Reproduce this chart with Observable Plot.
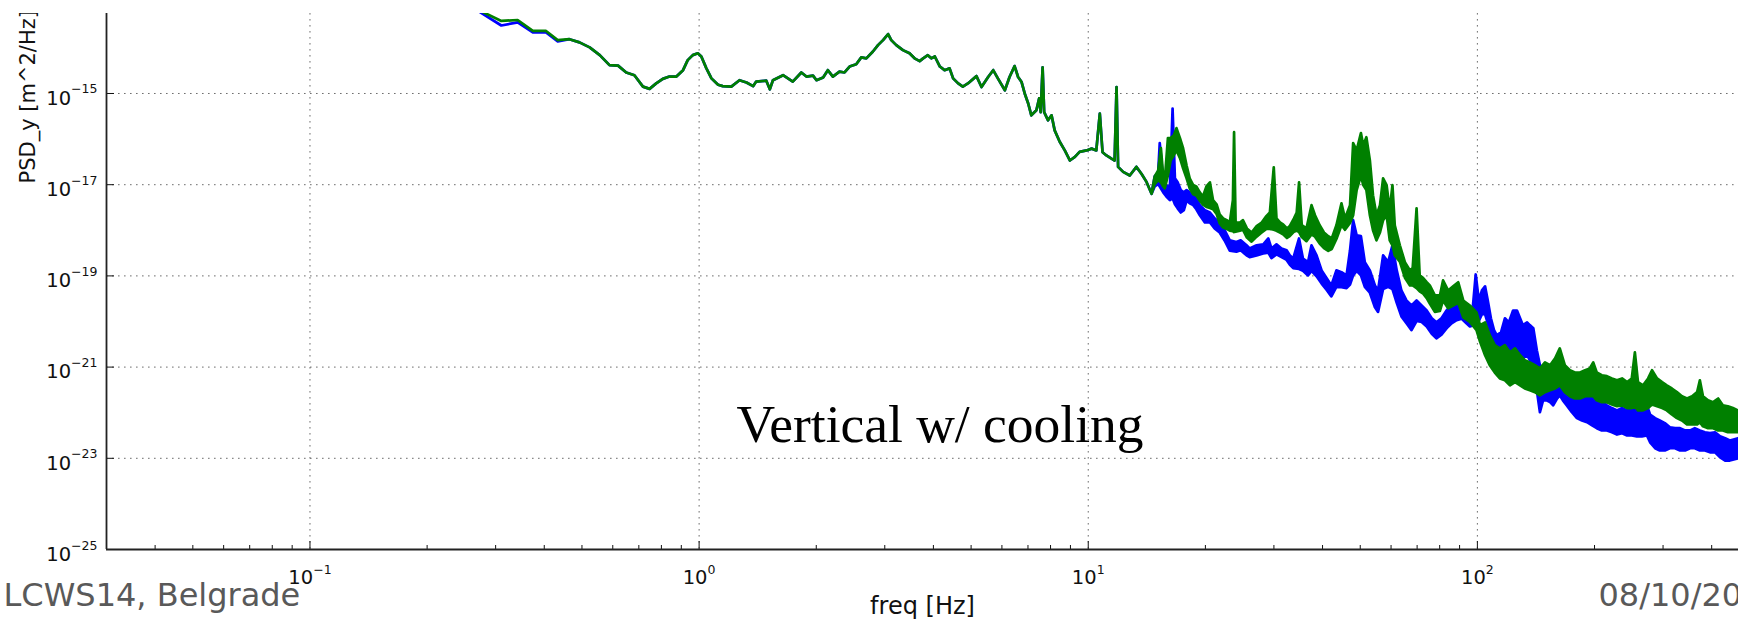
<!DOCTYPE html>
<html>
<head>
<meta charset="utf-8">
<script src="https://cdn.jsdelivr.net/npm/d3@7"></script>
<script src="https://cdn.jsdelivr.net/npm/@observablehq/plot@0.6"></script>
<style>
  html, body { margin: 0; padding: 0; background: #fff; width: 1738px; height: 620px; overflow: hidden; }
  #chart { position: absolute; left: 0; top: 13px; }
</style>
</head>
<body>
<div id="chart"></div>
<script>
// ---- Vertical PSD of the sensor, two runs (blue, green) ----
// Frequencies are stored as log10(f / Hz), PSD values as log10(PSD / (m^2/Hz)).

// Low-frequency section: both traces coincide (a single thin line)
const lowFreqLog = [-0.563, -0.507, -0.465, -0.426, -0.392, -0.362, -0.332, -0.306, -0.280, -0.254,
  -0.229, -0.207, -0.186, -0.165, -0.143, -0.126, -0.109, -0.092, -0.075, -0.057,
  -0.040, -0.028, -0.015, -0.002, 0.007, 0.020, 0.033, 0.050, 0.062, 0.084,
  0.105, 0.123, 0.140, 0.148, 0.174, 0.183, 0.191, 0.217, 0.242, 0.264,
  0.277, 0.294, 0.303, 0.320, 0.332, 0.345, 0.362, 0.375, 0.388, 0.405,
  0.418, 0.431, 0.448, 0.461, 0.474, 0.487, 0.495, 0.508, 0.525, 0.542,
  0.555, 0.568, 0.577, 0.589, 0.598, 0.607, 0.620, 0.632, 0.645, 0.654,
  0.667, 0.679, 0.692, 0.714, 0.727, 0.744, 0.757, 0.769, 0.787, 0.799,
  0.812, 0.821, 0.830, 0.838, 0.847, 0.855, 0.868, 0.875, 0.879, 0.884,
  0.888, 0.898, 0.907, 0.915, 0.928, 0.941, 0.954, 0.967, 0.979, 0.997,
  1.010, 1.022, 1.031, 1.038, 1.048, 1.061, 1.069, 1.074, 1.078, 1.091,
  1.108, 1.125, 1.138, 1.151, 1.164];
const lowGreenLog = [-13.19, -13.42, -13.40, -13.64, -13.64, -13.84, -13.82, -13.89, -14.00, -14.17,
  -14.39, -14.40, -14.55, -14.61, -14.86, -14.91, -14.79, -14.69, -14.64, -14.64,
  -14.50, -14.28, -14.17, -14.13, -14.20, -14.46, -14.68, -14.82, -14.85, -14.86,
  -14.72, -14.77, -14.85, -14.75, -14.73, -14.92, -14.72, -14.61, -14.75, -14.55,
  -14.64, -14.62, -14.72, -14.66, -14.50, -14.64, -14.53, -14.55, -14.42, -14.37,
  -14.22, -14.24, -14.09, -13.95, -13.84, -13.71, -13.84, -13.95, -14.06, -14.13,
  -14.24, -14.30, -14.24, -14.17, -14.24, -14.20, -14.42, -14.50, -14.46, -14.68,
  -14.79, -14.86, -14.79, -14.63, -14.87, -14.65, -14.50, -14.68, -14.94, -14.65,
  -14.41, -14.65, -14.76, -15.01, -15.23, -15.49, -15.38, -15.12, -15.42, -14.44,
  -15.42, -15.60, -15.49, -15.82, -16.07, -16.26, -16.48, -16.40, -16.29, -16.26,
  -16.22, -16.26, -15.45, -16.30, -16.37, -16.44, -16.48, -14.87, -16.62, -16.73,
  -16.81, -16.62, -16.77, -16.95, -17.21];
// the blue trace sits slightly lower at the very start
const lowBlueStartLog = [-13.22, -13.52, -13.45, -13.67, -13.67, -13.87];

// Noisy high-frequency section, drawn as an envelope (upper / lower edge)
const greenBandFreqLog = [1.172, 1.181, 1.188, 1.194, 1.198, 1.206, 1.213, 1.221, 1.228, 1.237,
  1.245, 1.254, 1.262, 1.271, 1.279, 1.288, 1.296, 1.305, 1.314, 1.322,
  1.331, 1.339, 1.348, 1.357, 1.365, 1.373, 1.376, 1.380, 1.391, 1.399,
  1.409, 1.421, 1.434, 1.447, 1.459, 1.468, 1.478, 1.485, 1.494, 1.502,
  1.512, 1.519, 1.530, 1.537, 1.543, 1.550, 1.562, 1.575, 1.584, 1.596,
  1.607, 1.618, 1.627, 1.639, 1.652, 1.661, 1.674, 1.682, 1.691, 1.702,
  1.708, 1.716, 1.725, 1.733, 1.742, 1.751, 1.759, 1.768, 1.776, 1.783,
  1.789, 1.802, 1.815, 1.828, 1.835, 1.845, 1.853, 1.862, 1.871, 1.879,
  1.892, 1.905, 1.913, 1.926, 1.939, 1.952, 1.965, 1.982, 1.999, 2.008,
  2.021, 2.033, 2.046, 2.059, 2.072, 2.085, 2.098, 2.111, 2.123, 2.136,
  2.149, 2.162, 2.175, 2.188, 2.201, 2.213, 2.226, 2.239, 2.252, 2.265,
  2.278, 2.290, 2.299, 2.308, 2.321, 2.334, 2.347, 2.360, 2.373, 2.386,
  2.398, 2.406, 2.414, 2.427, 2.440, 2.450, 2.463, 2.476, 2.488, 2.501,
  2.514, 2.527, 2.540, 2.553, 2.566, 2.573, 2.581, 2.594, 2.607, 2.620,
  2.632, 2.645, 2.658, 2.671];
const greenBandHiLog = [-16.83, -16.70, -16.21, -16.83, -16.91, -15.99, -15.99, -15.93, -15.77, -15.99,
  -16.21, -16.59, -16.87, -17.02, -17.05, -17.18, -17.27, -17.05, -16.96, -17.35,
  -17.44, -17.66, -17.75, -17.79, -17.84, -17.35, -15.86, -17.84, -17.84, -17.79,
  -17.97, -18.06, -17.92, -17.84, -17.70, -17.62, -16.63, -17.75, -17.84, -17.88,
  -17.97, -17.92, -17.75, -17.62, -16.96, -17.90, -17.97, -17.46, -17.68, -17.90,
  -18.06, -18.14, -18.19, -17.90, -17.42, -17.75, -17.46, -16.10, -16.26, -15.88,
  -16.15, -15.97, -16.48, -17.24, -17.68, -17.46, -16.87, -17.02, -17.57, -17.02,
  -17.90, -18.34, -18.71, -18.89, -18.84, -17.53, -19.00, -19.06, -19.15, -19.22,
  -19.44, -19.44, -19.11, -19.33, -19.24, -19.15, -19.55, -19.66, -19.81, -20.09,
  -20.03, -20.31, -20.53, -20.60, -20.53, -20.69, -20.60, -20.75, -20.86, -20.91,
  -20.97, -21.04, -20.91, -20.97, -20.82, -20.60, -20.97, -21.08, -21.13, -21.13,
  -21.08, -21.04, -20.91, -21.13, -21.19, -21.21, -21.26, -21.30, -21.26, -21.34,
  -21.26, -20.69, -21.34, -21.41, -21.26, -21.08, -21.26, -21.34, -21.41, -21.48,
  -21.56, -21.65, -21.70, -21.65, -21.56, -21.30, -21.65, -21.74, -21.78, -21.70,
  -21.85, -21.87, -21.91, -21.96];
const greenBandLoLog = [-17.00, -16.91, -16.96, -17.05, -17.09, -16.81, -16.48, -16.37, -16.26, -16.43,
  -16.65, -16.87, -17.09, -17.22, -17.25, -17.36, -17.45, -17.50, -17.52, -17.55,
  -17.65, -17.86, -17.95, -17.98, -18.02, -18.03, -18.05, -18.04, -18.02, -18.00,
  -18.17, -18.26, -18.15, -18.06, -17.98, -17.98, -18.00, -18.02, -18.06, -18.10,
  -18.18, -18.14, -18.04, -18.02, -18.05, -18.16, -18.25, -18.10, -18.15, -18.30,
  -18.40, -18.46, -18.42, -18.20, -17.90, -18.00, -17.85, -17.68, -17.13, -16.81,
  -17.02, -17.13, -17.68, -18.01, -18.23, -18.06, -17.79, -17.68, -18.23, -18.34,
  -18.56, -18.70, -19.05, -19.22, -19.22, -19.28, -19.35, -19.40, -19.50, -19.62,
  -19.80, -19.78, -19.55, -19.72, -19.66, -19.60, -19.92, -20.02, -20.20, -20.45,
  -20.75, -20.97, -21.13, -21.26, -21.30, -21.41, -21.34, -21.41, -21.48, -21.52,
  -21.56, -21.63, -21.56, -21.52, -21.48, -21.41, -21.56, -21.65, -21.70, -21.70,
  -21.65, -21.65, -21.65, -21.74, -21.78, -21.78, -21.83, -21.87, -21.85, -21.91,
  -21.91, -21.87, -21.96, -21.96, -21.91, -21.83, -21.87, -21.91, -21.96, -22.05,
  -22.13, -22.18, -22.27, -22.27, -22.27, -22.22, -22.31, -22.35, -22.35, -22.40,
  -22.40, -22.44, -22.44, -22.44];

const blueBandFreqLog = [1.172, 1.181, 1.185, 1.194, 1.202, 1.211, 1.218, 1.224, 1.231, 1.239,
  1.247, 1.254, 1.262, 1.271, 1.279, 1.288, 1.301, 1.314, 1.326, 1.339,
  1.352, 1.365, 1.382, 1.393, 1.408, 1.416, 1.434, 1.451, 1.464, 1.472,
  1.485, 1.498, 1.511, 1.519, 1.528, 1.543, 1.553, 1.566, 1.575, 1.588,
  1.601, 1.614, 1.626, 1.639, 1.652, 1.665, 1.674, 1.682, 1.691, 1.702,
  1.712, 1.725, 1.738, 1.746, 1.759, 1.772, 1.783, 1.794, 1.806, 1.819,
  1.832, 1.845, 1.858, 1.871, 1.884, 1.896, 1.909, 1.922, 1.935, 1.948,
  1.961, 1.973, 1.982, 1.990, 1.997, 2.005, 2.013, 2.021, 2.028, 2.036,
  2.044, 2.051, 2.062, 2.072, 2.082, 2.093, 2.103, 2.111, 2.118, 2.129,
  2.136, 2.145, 2.154, 2.162, 2.170, 2.179, 2.188, 2.196, 2.206, 2.213,
  2.221, 2.231, 2.244, 2.257, 2.270, 2.283, 2.296, 2.308, 2.321, 2.334,
  2.347, 2.360, 2.373, 2.386, 2.398, 2.411, 2.424, 2.437, 2.445, 2.458,
  2.470, 2.483, 2.496, 2.509, 2.522, 2.535, 2.548, 2.560, 2.573, 2.586,
  2.599, 2.612, 2.625, 2.638, 2.650, 2.671];
const blueBandHiLog = [-16.83, -16.74, -16.10, -16.91, -17.02, -17.09, -15.34, -16.87, -16.96, -17.13,
  -17.18, -17.13, -17.18, -17.24, -17.31, -17.46, -17.57, -17.62, -17.75, -17.84,
  -18.01, -18.23, -18.27, -18.23, -18.34, -18.41, -18.34, -18.32, -18.19, -18.41,
  -18.32, -18.41, -18.45, -18.56, -18.63, -18.19, -18.63, -18.71, -18.34, -18.56,
  -18.89, -19.06, -19.22, -18.89, -18.93, -19.00, -18.45, -17.79, -18.12, -18.14,
  -18.71, -18.89, -19.22, -19.33, -18.56, -18.71, -18.34, -18.89, -19.33, -19.55,
  -19.66, -19.55, -19.66, -19.77, -19.94, -20.03, -19.94, -19.77, -19.66, -19.55,
  -19.59, -19.72, -19.81, -19.66, -18.98, -19.55, -19.33, -19.24, -19.55, -19.94,
  -20.20, -20.31, -20.25, -19.94, -20.03, -19.77, -19.77, -19.94, -20.09, -20.03,
  -20.09, -20.16, -20.64, -20.97, -21.04, -21.08, -21.13, -21.04, -20.86, -20.64,
  -20.97, -21.13, -21.41, -21.56, -21.63, -21.59, -21.65, -21.70, -21.74, -21.85,
  -21.91, -21.96, -21.91, -21.96, -21.94, -21.96, -21.96, -21.85, -22.05, -22.13,
  -22.18, -22.24, -22.33, -22.35, -22.35, -22.40, -22.40, -22.35, -22.40, -22.44,
  -22.46, -22.44, -22.53, -22.57, -22.62, -22.57];
const blueBandLoLog = [-17.05, -17.00, -17.05, -17.18, -17.27, -17.35, -17.31, -17.44, -17.53, -17.62,
  -17.57, -17.36, -17.42, -17.46, -17.55, -17.68, -17.84, -17.84, -17.97, -18.06,
  -18.24, -18.46, -18.48, -18.45, -18.56, -18.60, -18.56, -18.52, -18.50, -18.62,
  -18.54, -18.60, -18.66, -18.76, -18.84, -18.86, -18.90, -19.00, -18.90, -19.02,
  -19.18, -19.32, -19.46, -19.25, -19.26, -19.28, -19.20, -19.00, -18.90, -19.00,
  -19.25, -19.38, -19.70, -19.80, -19.30, -19.25, -19.30, -19.60, -19.90, -20.05,
  -20.20, -20.00, -20.02, -20.12, -20.28, -20.38, -20.30, -20.16, -20.05, -19.98,
  -19.95, -20.05, -20.12, -20.10, -20.05, -20.00, -19.85, -19.85, -20.05, -20.30,
  -20.75, -20.86, -20.91, -20.82, -20.75, -20.69, -20.64, -20.75, -20.82, -20.75,
  -20.86, -20.97, -21.52, -22.00, -21.74, -21.74, -21.78, -21.85, -21.70, -21.63,
  -21.74, -21.85, -22.00, -22.13, -22.18, -22.22, -22.29, -22.35, -22.40, -22.40,
  -22.44, -22.49, -22.46, -22.51, -22.51, -22.53, -22.53, -22.51, -22.66, -22.79,
  -22.84, -22.84, -22.79, -22.79, -22.84, -22.84, -22.79, -22.79, -22.84, -22.84,
  -22.88, -22.88, -22.99, -23.06, -23.06, -23.01];

// Axes
const xDecades = [0.1, 1, 10, 100];
const xExponents = ["\u22121", "0", "1", "2"];
const yDecades = [1e-15, 1e-17, 1e-19, 1e-21, 1e-23, 1e-25];
const yExponents = ["\u221215", "\u221217", "\u221219", "\u221221", "\u221223", "\u221225"];
const xMin = 0.03, xMax = 10 ** 2.671;
const yMin = 1e-25, yMax = 10 ** -13.246;

// ---- build rows ----
const rows = (fLog, hiLog, loLog) =>
  fLog.map((f, i) => ({f: 10 ** f, hi: 10 ** hiLog[i], lo: 10 ** loLog[i]}));
const blueLowLog = lowGreenLog.map((v, i) => i < lowBlueStartLog.length ? lowBlueStartLog[i] : v);
const greenRows = [...rows(lowFreqLog, lowGreenLog, lowGreenLog),
                   ...rows(greenBandFreqLog, greenBandHiLog, greenBandLoLog)];
const blueRows = [...rows(lowFreqLog, blueLowLog, blueLowLog),
                  ...rows(blueBandFreqLog, blueBandHiLog, blueBandLoLog)];

// minor x ticks: 2..9 × each decade inside the domain
const xMinor = [];
for (const d of [0.01, 0.1, 1, 10, 100]) for (let k = 2; k <= 9; k++) {
  const v = k * d; if (v > xMin * 1.001 && v < xMax) xMinor.push(v);
}

const W = 1738, H = 607;
const mL = 106, mR = 0, mT = 0, mB = 71;
const frameW = W - mL - mR, frameH = H - mT - mB;

const FONT = "'DejaVu Sans', sans-serif";
const tickSize = 19.5, expSize = 12.5;
const ctx = document.createElement("canvas").getContext("2d");
const textWidth = (s, px) => { ctx.font = `${px}px "DejaVu Sans"`; return ctx.measureText(s).width; };

const grid = {stroke: "#555", strokeOpacity: 0.85, strokeWidth: 1, strokeDasharray: "1.6,4.4"};

const marks = [
  Plot.ruleY(yDecades.slice(0, -1), {y: d => d, ...grid}),
  Plot.ruleX(xDecades, {x: d => d, ...grid}),
  Plot.areaY(blueRows, {x: "f", y1: "lo", y2: "hi", fill: "#0000ff", stroke: "#0000ff",
    strokeWidth: 2.7, strokeLinejoin: "round", clip: true}),
  Plot.areaY(greenRows, {x: "f", y1: "lo", y2: "hi", fill: "#008000", stroke: "#008000",
    strokeWidth: 2.7, strokeLinejoin: "round", clip: true}),
  // inward tick marks
  Plot.tickX(xMinor, {x: d => d, stroke: "#111", insetTop: frameH - 4}),
  Plot.tickX(xDecades, {x: d => d, stroke: "#111", insetTop: frameH - 8}),
  Plot.tickY(yDecades, {y: d => d, stroke: "#111", insetRight: frameW - 8}),
  // spines
  Plot.ruleX([xMin], {x: d => d, stroke: "#222", strokeWidth: 1.8}),
  Plot.ruleY([yMin], {y: d => d, stroke: "#222", strokeWidth: 1.8}),
];

// x tick labels: "10" with a raised exponent, the pair centred on the tick
xDecades.forEach((d, i) => {
  const e = xExponents[i];
  const split = (textWidth("10", tickSize) - textWidth(e, expSize)) / 2;
  marks.push(Plot.text([d], {x: v => v, text: () => "10", frameAnchor: "bottom",
    dx: split, dy: 34, textAnchor: "end", lineAnchor: "bottom", fontSize: tickSize, fill: "#111"}));
  marks.push(Plot.text([d], {x: v => v, text: () => e, frameAnchor: "bottom",
    dx: split, dy: 24.5, textAnchor: "start", lineAnchor: "bottom", fontSize: expSize, fill: "#111"}));
});

// y tick labels, right-aligned against the axis
const expW = textWidth(yExponents[0], expSize);
marks.push(Plot.text(yDecades, {y: d => d, text: () => "10", frameAnchor: "left",
  dx: -9 - expW, dy: 11.3, textAnchor: "end", lineAnchor: "bottom", fontSize: tickSize, fill: "#111"}));
marks.push(Plot.text(yDecades, {y: d => d, text: (d, i) => yExponents[i], frameAnchor: "left",
  dx: -9, dy: 0, textAnchor: "end", lineAnchor: "bottom", fontSize: expSize, fill: "#111"}));

// axis titles
marks.push(Plot.text(["freq [Hz]"], {frameAnchor: "bottom", dy: 64, lineAnchor: "bottom",
  fontSize: 24, fill: "#111"}));
marks.push(Plot.text(["PSD_y [m^2/Hz]"], {frameAnchor: "top-left", dx: -86, dy: 170, rotate: -90,
  textAnchor: "start", fontSize: 21, fill: "#111"}));

// annotation inside the plot
marks.push(Plot.text(["Vertical w/ cooling"], {frameAnchor: "bottom-left", dx: 630, dy: -108,
  textAnchor: "start", lineAnchor: "bottom", fontSize: 53.5, fill: "#000",
  fontFamily: "'Liberation Serif', 'DejaVu Serif', serif"}));

// footer
marks.push(Plot.text(["LCWS14, Belgrade"], {frameAnchor: "bottom-left", dx: -103, dy: 56,
  textAnchor: "start", lineAnchor: "bottom", fontSize: 32, fill: "#595959"}));
marks.push(Plot.text(["08/10/2014"], {frameAnchor: "bottom-left", dx: 1492, dy: 56,
  textAnchor: "start", lineAnchor: "bottom", fontSize: 32, fill: "#595959"}));

const chart = Plot.plot({
  width: W, height: H,
  marginLeft: mL, marginRight: mR, marginTop: mT, marginBottom: mB,
  x: {type: "log", domain: [xMin, xMax], axis: null},
  y: {type: "log", domain: [yMin, yMax], axis: null},
  style: {background: "#fff", fontFamily: FONT, overflow: "hidden"},
  marks
});
document.getElementById("chart").appendChild(chart);
</script>
</body>
</html>
